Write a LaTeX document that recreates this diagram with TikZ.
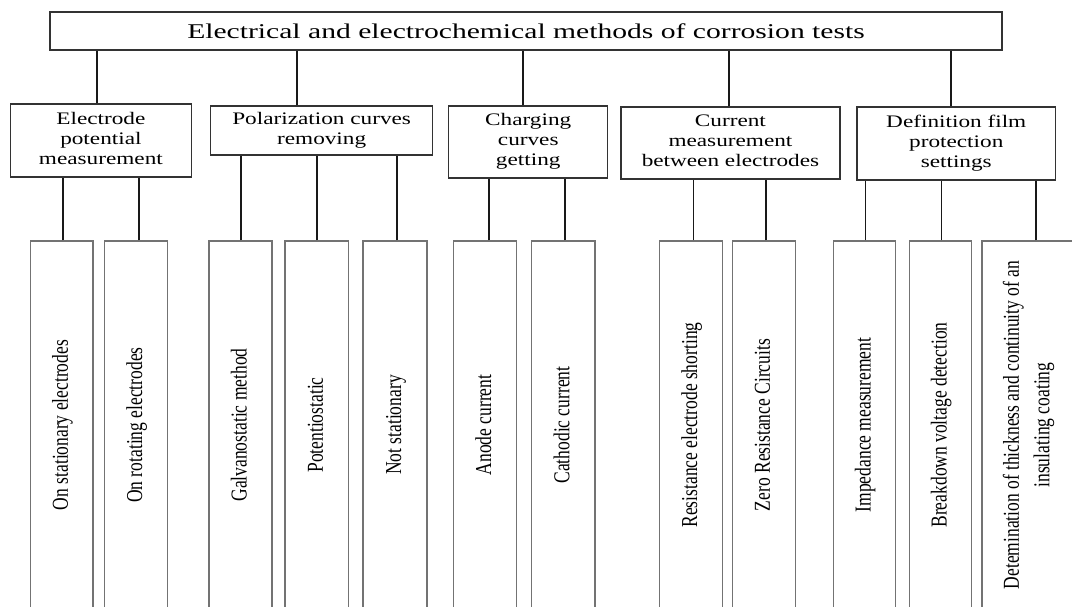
\documentclass[tikz,border=0pt]{standalone}
\usepackage{fontspec}
\setmainfont{Liberation Serif}
\usepackage{graphicx}
\newcommand{\hscl}[2]{\scalebox{#1}[1]{#2}}
\newcommand{\cattext}[1]{\scalebox{1.32}[1]{\begin{tabular}{@{}c@{}}#1\end{tabular}}}
\newcommand{\leaftext}[1]{\scalebox{1.3}[1]{\rotatebox{90}{\begin{tabular}{@{}c@{}}#1\end{tabular}}}}
\begin{document}
\begin{tikzpicture}[x=1pt,y=1pt,
  boxline/.style={draw=black!80, line width=1.3pt},
  topbox/.style={boxline, minimum width=952pt, minimum height=38pt, inner sep=0pt, font=\fontsize{21}{25}\selectfont},
  catbox/.style={boxline, inner sep=0pt, font=\fontsize{17.6}{20}\selectfont},
  leafbox/.style={draw=black!55, line width=1.2pt, inner sep=0pt, minimum height=368pt, font=\fontsize{17.5}{23.5}\selectfont},
  conn/.style={draw=black!90, line width=1.6pt}
]
\clip (0,0) rectangle (1072,606);
\fill[white] (0,0) rectangle (1072,606);

% top
\node[topbox] (top) at (526,575) {\hscl{1.41}{Electrical and electrochemical methods of corrosion tests}};

% categories
\node[catbox, minimum width=181.2pt, minimum height=73pt] (c1) at (100.9,465.5) {\cattext{Electrode\\potential\\measurement}};
\node[catbox, minimum width=221.7pt, minimum height=49pt] (c2) at (321.65,475.5) {\cattext{Polarization curves\\removing}};
\node[catbox, minimum width=159.1pt, minimum height=72pt] (c3) at (528.25,464) {\cattext{Charging\\curves\\getting}};
\node[catbox, minimum width=219.1pt, minimum height=72pt] (c4) at (730.45,463) {\cattext{Current\\measurement\\between electrodes}};
\node[catbox, minimum width=198.5pt, minimum height=73pt] (c5) at (956.25,462.5) {\cattext{Definition film\\protection\\settings}};

% top connectors
\coordinate (t1) at ([xshift=-3.9pt]c1.north);
\coordinate (t2) at ([xshift=-24.65pt]c2.north);
\coordinate (t3) at ([xshift=-5.25pt]c3.north);
\coordinate (t4) at ([xshift=-1.45pt]c4.north);
\coordinate (t5) at ([xshift=-5.25pt]c5.north);
\foreach \t in {t1,t2,t3,t4,t5}{\draw[conn] (\t) -- (\t |- top.south);}

% leaves
\node[leafbox, minimum width=62.7pt] (l1) at (61.65,181) {\leaftext{On stationary electrodes}};
\node[leafbox, minimum width=63.4pt] (l2) at (136,181) {\leaftext{On rotating electrodes}};
\node[leafbox, minimum width=63pt] (l3) at (240.5,181) {\leaftext{Galvanostatic method}};
\node[leafbox, minimum width=63.5pt] (l4) at (316.75,181) {\leaftext{Potentiostatic}};
\node[leafbox, minimum width=64pt] (l5) at (395,181) {\leaftext{Not stationary}};
\node[leafbox, minimum width=63.4pt] (l6) at (484.9,181) {\leaftext{Anode current}};
\node[leafbox, minimum width=63.3pt] (l7) at (563.35,181) {\leaftext{Cathodic current}};
\node[leafbox, minimum width=62.6pt] (l8) at (690.9,181) {\leaftext{Resistance electrode shorting}};
\node[leafbox, minimum width=63.3pt] (l9) at (763.85,181) {\leaftext{Zero Resistance Circuits}};
\node[leafbox, minimum width=61.9pt] (l10) at (864.45,181) {\leaftext{Impedance measurement}};
\node[leafbox, minimum width=62.6pt] (l11) at (940.5,181) {\leaftext{Breakdown voltage detection}};
\node[leafbox, minimum width=92pt] (l12) at (1028,181) {\leaftext{Detemination of thickness and continuity of an\\insulating coating}};

% leaf connectors
\coordinate (a1) at ([xshift=1.35pt]l1.north);
\coordinate (a2) at ([xshift=3pt]l2.north);
\coordinate (a3) at ([xshift=0.5pt]l3.north);
\coordinate (a4) at ([xshift=0.25pt]l4.north);
\coordinate (a5) at ([xshift=2pt]l5.north);
\coordinate (a6) at ([xshift=4.1pt]l6.north);
\coordinate (a7) at ([xshift=1.65pt]l7.north);
\coordinate (a8) at ([xshift=2.6pt]l8.north);
\coordinate (a9) at ([xshift=1.85pt]l9.north);
\coordinate (a10) at ([xshift=0.85pt]l10.north);
\coordinate (a11) at ([xshift=0.8pt]l11.north);
\coordinate (a12) at ([xshift=8pt]l12.north);
\foreach \a/\c in {a1/c1,a2/c1,a3/c2,a4/c2,a5/c2,a6/c3,a7/c3,a8/c4,a9/c4,a10/c5,a11/c5,a12/c5}{\draw[conn] (\a) -- (\a |- \c.south);}
\end{tikzpicture}
\end{document}
